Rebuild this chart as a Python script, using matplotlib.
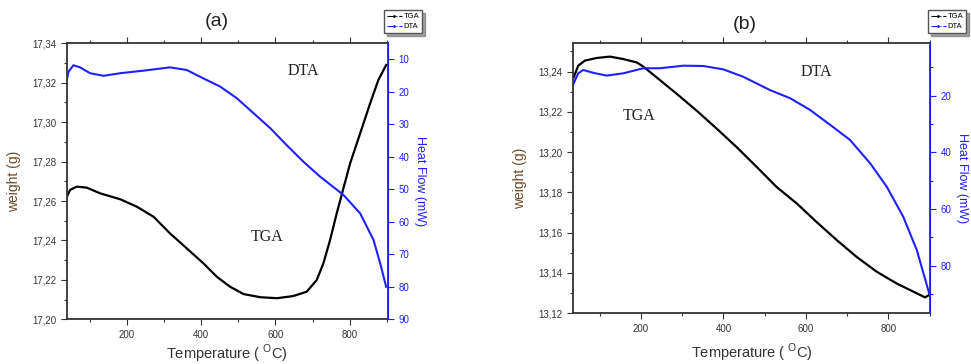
import matplotlib
matplotlib.use("Agg")
import matplotlib.pyplot as plt
from matplotlib.ticker import FuncFormatter, MultipleLocator
from matplotlib.lines import Line2D

plt.rcParams['font.family'] = ['Liberation Sans', 'DejaVu Sans']
plt.rcParams['mathtext.fontset'] = 'custom'
plt.rcParams['mathtext.rm'] = 'Liberation Sans'

# ---- Panel (a) data ----
tga_a_T = [38, 47, 65, 92, 128, 182, 227, 272, 316, 361, 406, 442, 478, 514,
           559, 604, 648, 684, 711, 729, 747, 765, 783, 801, 828, 855, 877, 898]
tga_a_w = [17.2620, 17.2656, 17.2673, 17.2668, 17.2639, 17.2609, 17.2571, 17.2520,
           17.2436, 17.2360, 17.2284, 17.2216, 17.2165, 17.2128, 17.2112, 17.2107,
           17.2118, 17.2140, 17.2199, 17.2284, 17.2402, 17.2538, 17.2665, 17.2791,
           17.2943, 17.3096, 17.3214, 17.3290]
dta_a_T = [38, 43, 56, 74, 101, 137, 182, 245, 316, 361, 406, 451, 496, 541,
           586, 630, 675, 720, 783, 828, 864, 882, 898]
dta_a_H = [16.4, 13.8, 11.85, 12.5, 14.3, 15.1, 14.3, 13.5, 12.5, 13.3, 15.9, 18.4,
           22.0, 26.6, 31.2, 36.4, 41.5, 46.1, 51.75, 57.4, 65.6, 72.8, 80.0]

# ---- Panel (b) data ----
tga_b_T = [37, 48, 64, 92, 125, 157, 190, 206, 238, 287, 335, 384, 432, 481, 529,
           578, 626, 675, 723, 772, 820, 861, 889, 899]
tga_b_w = [13.2371, 13.2429, 13.2454, 13.2467, 13.2474, 13.2462, 13.2445, 13.2424,
           13.2371, 13.2289, 13.2206, 13.2116, 13.2025, 13.1926, 13.1827, 13.1745,
           13.1653, 13.1563, 13.1480, 13.1406, 13.1348, 13.1307, 13.1279, 13.1291]
dta_b_T = [37, 48, 60, 84, 117, 157, 206, 246, 303, 351, 400, 448, 513, 562, 610,
           659, 707, 756, 796, 836, 869, 899]
dta_b_H = [15.6, 12.1, 10.9, 11.9, 12.9, 12.1, 10.3, 10.3, 9.4, 9.5, 10.7, 13.3,
           18.0, 20.9, 25.0, 30.3, 35.6, 43.9, 52.1, 62.7, 74.5, 89.8]

panel_titles = ['(a)', '(b)']
series_labels = ['TGA', 'DTA']

BLUE = '#2020ff'
BROWN = '#6e4a2a'

fig = plt.figure(figsize=(9.71, 3.64), dpi=100)

comma = FuncFormatter(lambda v, p: f"{v:.2f}".replace('.', ','))
intfmt = FuncFormatter(lambda v, p: f"{v:.0f}")


def make_panel(rect, T1, W, T2, H, xlim, ylim, y2lim, ymajor, y2major, y2minor,
               title, title_xy, leg_rect, dta_xy, tga_xy, xlabpad):
    ax = fig.add_axes(rect)
    ax2 = ax.twinx()
    ax.plot(T1, W, color='black', lw=1.6)
    ax2.plot(T2, H, color=BLUE, lw=1.5)
    ax.set_xlim(*xlim)
    ax.set_ylim(*ylim)
    ax2.set_ylim(*y2lim)
    ax.xaxis.set_major_locator(MultipleLocator(200))
    ax.xaxis.set_minor_locator(MultipleLocator(100))
    ax.yaxis.set_major_locator(MultipleLocator(ymajor))
    ax.yaxis.set_minor_locator(MultipleLocator(ymajor / 2))
    ax.yaxis.set_major_formatter(comma)
    ax2.yaxis.set_major_locator(MultipleLocator(y2major))
    if y2minor:
        ax2.yaxis.set_minor_locator(MultipleLocator(y2minor))
    ax2.yaxis.set_major_formatter(intfmt)
    ax.tick_params(axis='both', which='major', labelsize=7, length=4, width=0.8,
                   colors='#333333', direction='out')
    ax.tick_params(axis='both', which='minor', length=2.5, width=0.8, direction='out',
                   colors='#333333')
    ax.tick_params(axis='x', top=True, which='both')
    ax2.tick_params(axis='y', which='major', labelsize=7, length=4, width=0.8,
                    colors=BLUE, direction='out')
    ax2.tick_params(axis='y', which='minor', length=2.5, width=0.8, colors=BLUE)
    for s in ['left', 'bottom', 'top']:
        ax.spines[s].set_linewidth(1.3)
        ax.spines[s].set_color('#333333')
    ax2.spines['right'].set_color(BLUE)
    ax2.spines['right'].set_linewidth(1.3)
    for s in ['left', 'bottom', 'top']:
        ax2.spines[s].set_visible(False)
    ax.set_xlabel(r"Temperature ( $^{\mathrm{O}}$C)", fontsize=10.5, color='#333333',
                  labelpad=xlabpad)
    ax.set_ylabel("weight (g)", fontsize=10, color=BROWN, labelpad=8)
    ax2.set_ylabel("Heat Flow (mW)", fontsize=9, color=BLUE, rotation=270, labelpad=12)
    ax.text(*dta_xy, 'DTA', family=['Liberation Serif'], fontsize=11.5, color='#222222',
            ha='center', va='center')
    ax.text(*tga_xy, 'TGA', family=['Liberation Serif'], fontsize=11.5, color='#222222',
            ha='center', va='center')
    fig.text(*title_xy, title, fontsize=14, ha='center', va='center', color='#222222')
    handles = [Line2D([], [], color='black', ls='-.', marker='.', markersize=2, lw=0.8),
               Line2D([], [], color=BLUE, ls='-.', marker='.', markersize=2, lw=0.8)]
    leg = fig.legend(handles, series_labels, loc='upper right',
                     bbox_to_anchor=leg_rect, fontsize=5.5, frameon=True, shadow=True,
                     fancybox=False, borderpad=0.35, handlelength=2.0, handletextpad=0.2,
                     labelspacing=0.35, borderaxespad=0.0)
    leg.get_frame().set_edgecolor('#555555')
    leg.get_frame().set_linewidth(1.0)
    return ax, ax2


make_panel([0.0687, 0.1228, 0.3309, 0.7582], tga_a_T, tga_a_w, dta_a_T, dta_a_H,
           (38, 903), (17.20, 17.34), (90, 5.1), 0.02, 10, None,
           panel_titles[0], (0.223, 0.94), (0.4346, 0.972),
           (675, 17.326), (577, 17.2416), 2)

make_panel([0.5904, 0.1393, 0.3674, 0.7417], tga_b_T, tga_b_w, dta_b_T, dta_b_H,
           (36, 901), (13.12, 13.254), (96.8, 1.5), 0.02, 20, 10,
           panel_titles[1], (0.767, 0.934), (0.9948, 0.972),
           (625, 13.240), (196, 13.2179), 6)

fig.savefig('out.png', dpi=100)
